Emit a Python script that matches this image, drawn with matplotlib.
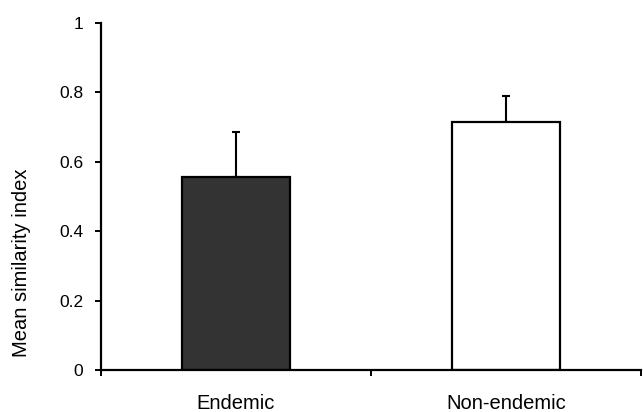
import matplotlib
matplotlib.use("Agg")
import matplotlib.pyplot as plt

# values
groups = ["Endemic", "Non-endemic"]
means = [0.555, 0.713]
upper_err = [0.131, 0.075]
bar_colors = ["#333333", "#ffffff"]

plt.rcParams['font.family'] = ['Liberation Sans', 'DejaVu Sans']

fig = plt.figure(figsize=(6.43, 4.12), dpi=100)
ax = fig.add_axes([100.7/643, 42/412, (641.5-100.7)/643, (370-22.7)/412])

pos = [0.5, 1.5]
ax.bar(pos, means, width=0.4, color=bar_colors, edgecolor="black", linewidth=1.6, zorder=2)
ax.errorbar(pos, means, yerr=[[0, 0], upper_err], fmt="none", ecolor="black",
            elinewidth=1.5, capsize=3, capthick=1.5, zorder=1)

ax.set_xlim(0, 2)
ax.set_ylim(0, 1)
ax.set_yticks([0, 0.2, 0.4, 0.6, 0.8, 1])
ax.set_yticklabels(["0", "0.2", "0.4", "0.6", "0.8", "1"])
ax.set_xticks([0, 1, 2])
ax.set_xticklabels([])
ax.set_xticks(pos, minor=True)
ax.set_xticklabels(groups, minor=True)

for s in ["top", "right"]:
    ax.spines[s].set_visible(False)
for s in ["left", "bottom"]:
    ax.spines[s].set_linewidth(1.6)

ax.tick_params(axis="y", which="major", length=4, width=1.4, labelsize=12.5, pad=8.5)
ax.tick_params(axis="x", which="major", length=4, width=1.4)
ax.tick_params(axis="x", which="minor", length=0, labelsize=14.5, pad=17)

ax.set_ylabel("Mean similarity index", fontsize=14.5)
ax.yaxis.set_label_coords(-0.128, 0.31)

fig.savefig("out.png", dpi=100)
